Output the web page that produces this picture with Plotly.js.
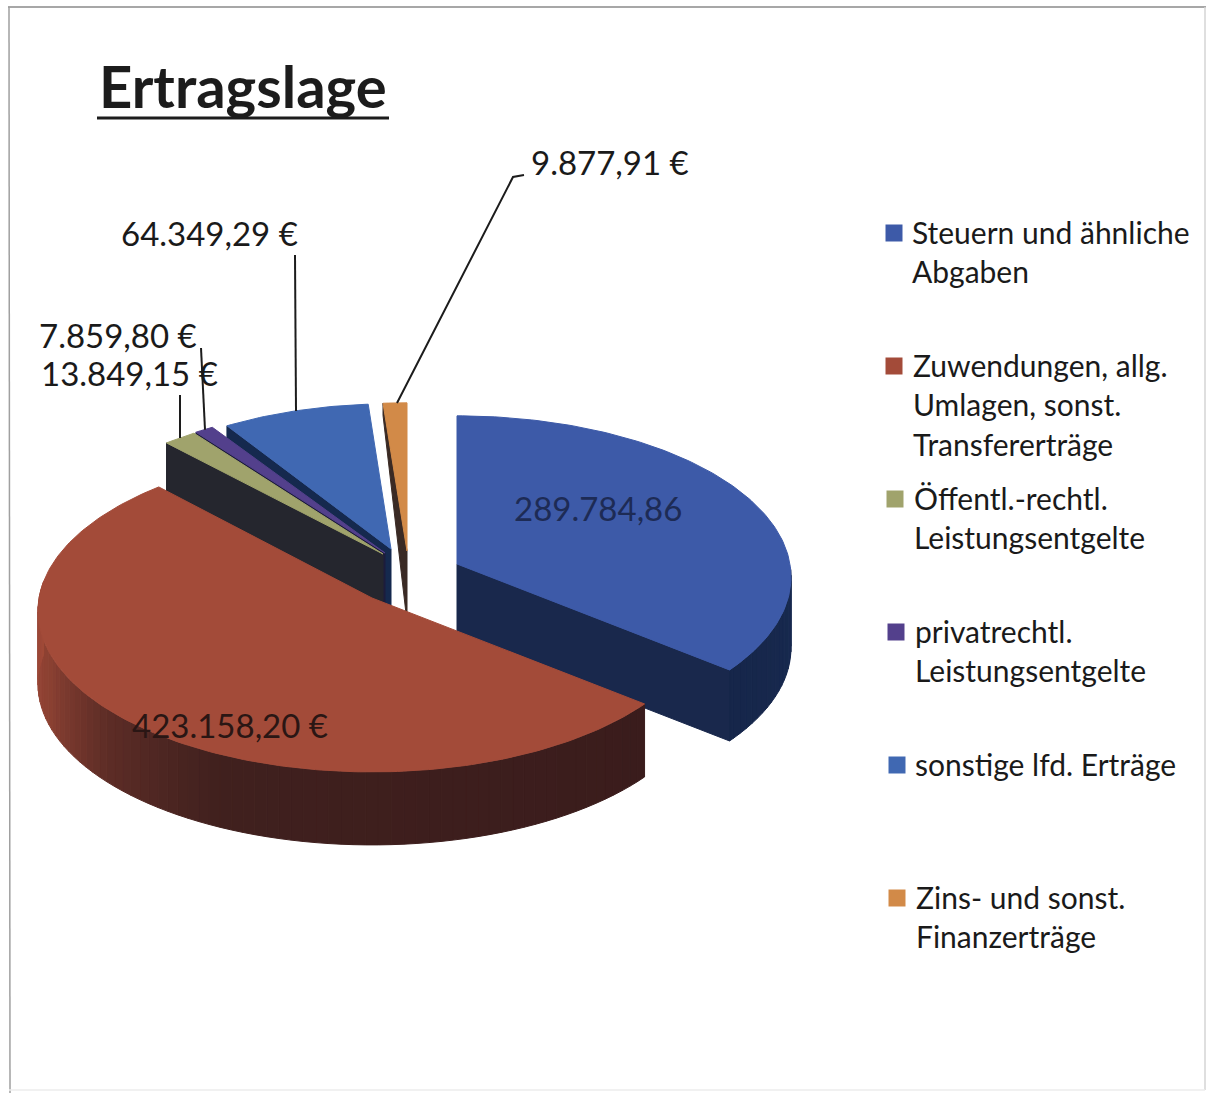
<!DOCTYPE html>
<html><head><meta charset="utf-8">
<script src="https://cdn.plot.ly/plotly-3.0.1.min.js"></script>
<style>html,body{margin:0;padding:0;background:#fff}#c{width:1220px;height:1093px}</style>
</head><body><div id="c"></div>
<script>
// ---- data ----
const categories = ["Steuern und ähnliche\nAbgaben","Zuwendungen, allg.\nUmlagen, sonst.\nTransfererträge","Öffentl.-rechtl.\nLeistungsentgelte","privatrechtl.\nLeistungsentgelte","sonstige lfd. Erträge","Zins- und sonst.\nFinanzerträge"];
const values = [289784.86,423158.20,13849.15,7859.80,64349.29,9877.91];
const valueLabels = ["289.784,86","423.158,20 €","13.849,15 €","7.859,80 €","64.349,29 €","9.877,91 €"];
const faceColors = ["#3d5aa8","#a34b39","#a0a36c","#53408c","#4068b2","#d28a48"];
const edgeWallColors = ["#19284c","#3a1c1c","#25262e","#1c1c3c","#15294e","#3a2a24"];

// ---- projection / layout constants ----
const A = 338, B = 160, P = 0.08, DEPTH = 71;
const apex = [[457,564],[372,598],[383,554],[385,553],[391,549],[407,551]];
const scaleX = [0.985,0.985,1,1,0.95,1];
const scaleY = [1,1,1,1,0.98,1];
const wallDepth = [71,73,71,71,71,71];
const outerDepth = [71,73,71,71,71,12];
const total = values.reduce((a,b)=>a+b,0);
const spans = []; { let s=0; values.forEach(v=>{const e=s+v/total*360; spans.push([s,e]); s=e;}); }
function pt(i,deg){
  const r=deg*Math.PI/180,u=Math.sin(r),v=Math.cos(r),d=1+P*v;
  return [apex[i][0]+scaleX[i]*A*u/d, apex[i][1]-scaleY[i]*B*v/d];
}
function poly(pts,color,w){
  return {type:'scatter',mode:'lines',x:pts.map(p=>p[0]).concat(pts[0][0]),y:pts.map(p=>p[1]).concat(pts[0][1]),
    fill:'toself',fillcolor:color,line:{color:color,width:w===undefined?1:w},hoverinfo:'skip',showlegend:false};
}
function face(i){
  const pts=[apex[i]];
  for(let a=spans[i][0];a<spans[i][1];a+=1)pts.push(pt(i,a));
  pts.push(pt(i,spans[i][1]));
  return poly(pts,faceColors[i]);
}
function edgeWall(i,deg){
  const q=pt(i,deg),a=apex[i];
  return poly([a,q,[q[0],q[1]+outerDepth[i]],[a[0],a[1]+wallDepth[i]]],edgeWallColors[i]);
}
function mix(c1,c2,t){
  const f=c=>[1,3,5].map(k=>parseInt(c.substr(k,2),16)),a=f(c1),b=f(c2);
  return 'rgb('+a.map((x,k)=>Math.round(x+(b[k]-x)*t)).join(',')+')';
}
function outerWall(i,from,to,stops){
  const out=[];const step=2;
  for(let a=from;a<to;a+=step){
    const e=Math.min(a+step,to),m=(a+e)/2;let c=stops[stops.length-1][1];
    for(let k=0;k<stops.length-1;k++) if(m>=stops[k][0]&&m<=stops[k+1][0]){
      c=mix(stops[k][1],stops[k+1][1],(m-stops[k][0])/(stops[k+1][0]-stops[k][0]));}
    const pts=[];
    for(let t=a;t<e;t+=1)pts.push(pt(i,t));
    pts.push(pt(i,e));
    const low=pts.slice().reverse().map(p=>[p[0],p[1]+outerDepth[i]]);
    out.push(poly(pts.concat(low),c));
  }
  return out;
}
const traces=[];
// back to front: orange, sonstige, purple, olive, blue, red
traces.push(edgeWall(5,spans[5][0]),face(5));
traces.push(edgeWall(4,spans[4][0]),face(4));
traces.push(edgeWall(3,spans[3][0]),face(3));
traces.push(edgeWall(2,spans[2][0]),face(2));
traces.push(edgeWall(0,spans[0][1]));
traces.push(...outerWall(0,92,spans[0][1],[[92,"#182a50"],[spans[0][1],"#16264a"]]));
traces.push(face(0));
traces.push(...outerWall(1,spans[1][0],276,[[spans[1][0],"#3a1c1c"],[205,"#40201e"],[228,"#5c2c26"],[250,"#8a4032"],[276,"#a04a38"]]));
traces.push(face(1));

// leader lines
const leaders=[[[524,175],[513,177],null,5],[[295,255],null,4],[[201,348],null,3],[[180,395],null,2]];
leaders.forEach(l=>{
  const i=l[l.length-1],q=pt(i,(spans[i][0]+spans[i][1])/2);
  const p=l.slice(0,-1).filter(Boolean);
  const xs=p.map(a=>a[0]).concat(i===4?296:i===3?205:i===2?180:q[0]+2);
  const ys=p.map(a=>a[1]).concat(q[1]);
  traces.push({type:'scatter',mode:'lines',x:xs,y:ys,line:{color:'#1c1c1c',width:2},hoverinfo:'skip',showlegend:false});
});

// legend swatches
const legendX=[894,894,895,896,897,897], legendY=[233,366,499,632,765,898];
const legendTextX=[910,911,912,913,913,914];
traces.push({type:'scatter',mode:'markers',x:legendX,y:legendY,marker:{symbol:'square',size:17,color:faceColors},hoverinfo:'skip',showlegend:false});

const FONT='Lato, Carlito, sans-serif';
const ann=[];
const labelPos=[[598,508,'#1d2b55'],[230,725,'#2a1614'],[129,373,'#1a1a1a'],[118,335,'#1a1a1a'],[209,233,'#1a1a1a'],[610,162,'#1a1a1a']];
valueLabels.forEach((t,i)=>ann.push({x:labelPos[i][0],y:labelPos[i][1],text:t,showarrow:false,xanchor:'center',yanchor:'middle',
  font:{family:FONT,size:33,color:labelPos[i][2]}}));
categories.forEach((c,i)=>c.split('\n').forEach((ln,k)=>ann.push({x:legendTextX[i],y:legendY[i]+k*39.3-1,text:ln,showarrow:false,xanchor:'left',yanchor:'middle',
  font:{family:FONT,size:30,color:'#1a1a1a'}})));

const layout={width:1220,height:1093,margin:{l:0,r:0,t:0,b:0},paper_bgcolor:'#fff',plot_bgcolor:'#fff',showlegend:false,
  title:{text:'<b>Ertragslage</b>',x:99/1220,xanchor:'left',y:1-88/1093,yanchor:'middle',font:{family:FONT,size:58,color:'#1c1c1c'}},
  xaxis:{range:[0,1220],visible:false,fixedrange:true},
  yaxis:{range:[1093,0],visible:false,fixedrange:true},
  annotations:ann,
  shapes:[
    {type:'line',x0:97,x1:389,y0:118,y1:118,line:{color:'#1c1c1c',width:3}},
    {type:'line',x0:8,x1:1206,y0:7,y1:7,line:{color:'#8a8a8a',width:1.5}},
    {type:'line',x0:9,x1:10,y0:7,y1:1093,line:{color:'#a0a0a0',width:1.5}},
    {type:'line',x0:1205,x1:1205,y0:7,y1:1090,line:{color:'#d4d4d4',width:1.5}},
    {type:'line',x0:9,x1:1205,y0:1090,y1:1090,line:{color:'#ececec',width:1.5}}
  ]};
Plotly.newPlot('c',traces,layout,{displayModeBar:false,staticPlot:true});
</script></body></html>
